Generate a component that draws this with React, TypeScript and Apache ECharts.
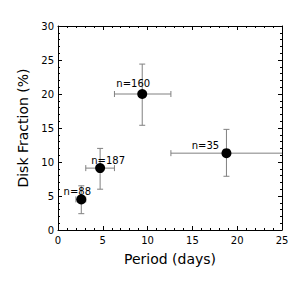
import React, { useEffect, useRef } from "react";
import * as echarts from "echarts";

const counts = ["n=88", "n=187", "n=160", "n=35"];
const period = [2.6, 4.7, 9.4, 18.8];
const periodLo = [2.0, 3.1, 6.3, 12.6];
const periodHi = [3.1, 6.3, 12.6, 26.0];
const diskFrac = [4.5, 9.1, 20.0, 11.3];
const diskFracLo = [2.4, 6.0, 15.4, 7.9];
const diskFracHi = [6.5, 12.0, 24.4, 14.8];
const xTicks = [0, 5, 10, 15, 20, 25];
const yTicks = [0, 5, 10, 15, 20, 25, 30];

const labelOffsets: [number, number][] = [
  [-4, -8],
  [8, -8],
  [-9, -11],
  [-21, -8],
];

const FONT = "DejaVu Sans";

export default function App() {
  const ref = useRef<HTMLDivElement>(null);
  useEffect(() => {
    if (!ref.current) return;
    const chart = echarts.init(ref.current, null, { renderer: "svg" });
    const errData = period.map((p, i) => [p, diskFrac[i], periodLo[i], periodHi[i], diskFracLo[i], diskFracHi[i]]);
    const baseX = (pos: string, showLabel: boolean) => ({
      type: "value",
      position: pos,
      min: xTicks[0],
      max: xTicks[xTicks.length - 1],
      interval: xTicks[1] - xTicks[0],
      axisLine: { show: true, onZero: false, lineStyle: { color: "#000", width: 1 } },
      axisTick: { show: true, inside: true, length: 4, lineStyle: { color: "#000" } },
      minorTick: { show: true, splitNumber: 5, length: 2, lineStyle: { color: "#000" } },
      splitLine: { show: false },
      axisLabel: { show: showLabel, fontSize: 10, color: "#000", fontFamily: FONT, margin: 5 },
      name: showLabel ? "Period (days)" : "",
      nameLocation: "middle",
      nameGap: 22,
      nameTextStyle: { fontSize: 14, color: "#000", fontFamily: FONT },
    });
    const baseY = (pos: string, showLabel: boolean) => ({
      type: "value",
      position: pos,
      min: yTicks[0],
      max: yTicks[yTicks.length - 1],
      interval: yTicks[1] - yTicks[0],
      axisLine: { show: true, onZero: false, lineStyle: { color: "#000", width: 1 } },
      axisTick: { show: true, inside: true, length: 4, lineStyle: { color: "#000" } },
      minorTick: { show: true, splitNumber: 5, length: 2, lineStyle: { color: "#000" } },
      splitLine: { show: false },
      axisLabel: { show: showLabel, fontSize: 10, color: "#000", fontFamily: FONT, margin: 4 },
      name: showLabel ? "Disk Fraction (%)" : "",
      nameLocation: "middle",
      nameGap: 21,
      nameRotate: 90,
      nameTextStyle: { fontSize: 14, color: "#000", fontFamily: FONT },
    });
    chart.setOption({
      animation: false,
      backgroundColor: "#fff",
      grid: { left: 58, right: 6, top: 26, bottom: 58, outerBoundsMode: "none", containLabel: false },
      xAxis: [baseX("bottom", true), baseX("top", false)],
      yAxis: [baseY("left", true), baseY("right", false)],
      series: [
        {
          type: "custom",
          xAxisIndex: 0,
          yAxisIndex: 0,
          data: errData,
          encode: { x: [0, 2, 3], y: [1, 4, 5] },
          renderItem: (params: any, api: any) => {
            const cs = params.coordSys;
            const x0 = cs.x, x1 = cs.x + cs.width, y0 = cs.y, y1 = cs.y + cs.height;
            const x = api.value(0), y = api.value(1);
            const c = api.coord([x, y]);
            const l = api.coord([api.value(2), y]);
            const r = api.coord([api.value(3), y]);
            const t = api.coord([x, api.value(5)]);
            const b = api.coord([x, api.value(4)]);
            const style = { stroke: "#808080", lineWidth: 1 };
            const cap = 3;
            const lx = Math.max(l[0], x0), rx = Math.min(r[0], x1);
            const ty = Math.max(t[1], y0), by = Math.min(b[1], y1);
            const children: any[] = [
              { type: "line", shape: { x1: lx, y1: c[1], x2: rx, y2: c[1] }, style },
              { type: "line", shape: { x1: c[0], y1: ty, x2: c[0], y2: by }, style },
            ];
            if (l[0] >= x0) children.push({ type: "line", shape: { x1: l[0], y1: c[1] - cap, x2: l[0], y2: c[1] + cap }, style });
            if (r[0] <= x1) children.push({ type: "line", shape: { x1: r[0], y1: c[1] - cap, x2: r[0], y2: c[1] + cap }, style });
            if (t[1] >= y0) children.push({ type: "line", shape: { x1: c[0] - cap, y1: t[1], x2: c[0] + cap, y2: t[1] }, style });
            if (b[1] <= y1) children.push({ type: "line", shape: { x1: c[0] - cap, y1: b[1], x2: c[0] + cap, y2: b[1] }, style });
            return { type: "group", children };
          },
          z: 2,
        },
        {
          type: "scatter",
          xAxisIndex: 0,
          yAxisIndex: 0,
          symbol: "circle",
          symbolSize: 10,
          itemStyle: { color: "#000", opacity: 1 },
          z: 3,
          data: period.map((p, i) => ({
            value: [p, diskFrac[i]],
            label: {
              show: true,
              formatter: counts[i],
              position: "inside",
              offset: labelOffsets[i],
              fontSize: 10,
              color: "#000",
              fontFamily: FONT,
            },
          })),
        },
      ],
    });
    return () => chart.dispose();
  }, []);
  return <div ref={ref} style={{ width: 288, height: 288, position: "absolute", left: 0, top: 0 }} />;
}
